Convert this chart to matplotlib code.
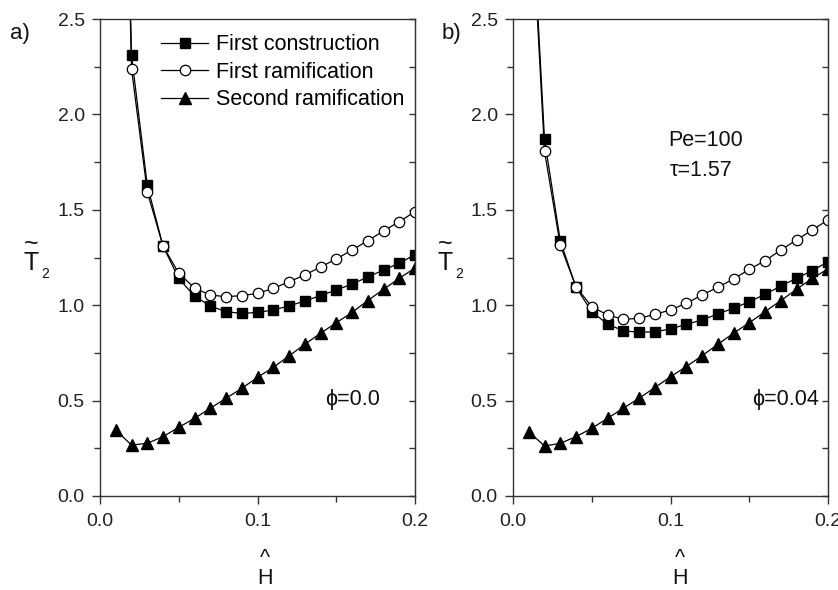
import matplotlib
matplotlib.use("Agg")
import matplotlib.pyplot as plt
from matplotlib.ticker import MultipleLocator

plt.rcParams['font.family'] = ['Liberation Sans', 'DejaVu Sans']

# H values (first points at 0.01 for squares/circles lie above the frame)
h = [0.01, 0.02, 0.03, 0.04, 0.05, 0.06, 0.07, 0.08, 0.09, 0.10,
     0.11, 0.12, 0.13, 0.14, 0.15, 0.16, 0.17, 0.18, 0.19, 0.20]

# panel a) phi = 0.0
a_first = [6.0, 2.31, 1.63, 1.31, 1.14, 1.048, 0.996, 0.966, 0.957, 0.962,
           0.975, 0.996, 1.022, 1.05, 1.08, 1.11, 1.148, 1.184, 1.22, 1.265]
a_ram1 = [5.8, 2.24, 1.595, 1.31, 1.168, 1.09, 1.053, 1.045, 1.05, 1.062,
          1.088, 1.123, 1.158, 1.20, 1.242, 1.289, 1.338, 1.389, 1.438, 1.49]
a_ram2 = [0.346, 0.267, 0.276, 0.311, 0.36, 0.407, 0.46, 0.512, 0.564, 0.622,
          0.674, 0.734, 0.795, 0.853, 0.908, 0.962, 1.024, 1.083, 1.141, 1.195]

# panel b) phi = 0.04
b_first = [3.41, 1.87, 1.338, 1.094, 0.966, 0.901, 0.866, 0.858, 0.861, 0.875,
           0.90, 0.922, 0.954, 0.984, 1.018, 1.057, 1.10, 1.141, 1.181, 1.228]
b_ram1 = [3.35, 1.808, 1.315, 1.097, 0.992, 0.949, 0.926, 0.931, 0.952, 0.975,
          1.01, 1.053, 1.094, 1.137, 1.188, 1.233, 1.289, 1.342, 1.394, 1.447]
b_ram2 = [0.337, 0.262, 0.276, 0.311, 0.355, 0.407, 0.46, 0.512, 0.568, 0.625,
          0.678, 0.735, 0.795, 0.853, 0.908, 0.966, 1.024, 1.083, 1.141, 1.19]

labels = ['First construction', 'First ramification', 'Second ramification']

W, H = 838, 590
fig = plt.figure(figsize=(W / 100, H / 100), dpi=100)
axc = '#333333'
txc = '#111111'

def setup(ax):
    ax.set_xlim(0, 0.2)
    ax.set_ylim(0, 2.5)
    ax.xaxis.set_major_locator(MultipleLocator(0.1))
    ax.xaxis.set_minor_locator(MultipleLocator(0.05))
    ax.yaxis.set_major_locator(MultipleLocator(0.5))
    ax.yaxis.set_minor_locator(MultipleLocator(0.25))
    ax.xaxis.set_major_formatter(plt.FuncFormatter(lambda v, p: '%.1f' % v))
    ax.yaxis.set_major_formatter(plt.FuncFormatter(lambda v, p: '%.1f' % v))
    for s in ax.spines.values():
        s.set_color(axc)
        s.set_linewidth(1.0)
    ax.tick_params(which='both', direction='out', colors=axc, labelcolor='#222222',
                   labelsize=14, top=False, right=False, width=1.0)
    ax.tick_params(axis='x', which='major', length=6, pad=6)
    ax.tick_params(axis='x', which='minor', length=4)
    ax.tick_params(axis='y', which='major', length=6, pad=5)
    ax.tick_params(axis='y', which='minor', length=4)
    sec = ax.secondary_yaxis('right')
    sec.yaxis.set_major_locator(MultipleLocator(0.5))
    sec.yaxis.set_minor_locator(MultipleLocator(0.25))
    sec.tick_params(which='both', direction='in', length=4, colors=axc,
                    labelright=False, width=1.0)
    sec.spines['right'].set_color(axc)

def draw(ax, y1, y2, y3):
    kw = dict(color='black', lw=0.9)
    ax.plot(h, y1, marker='s', ms=7, mfc='black', mec='black', label=labels[0], **kw)
    ax.plot(h, y2, marker='o', ms=7.5, mfc='white', mec='black', mew=0.9, label=labels[1], **kw)
    ax.plot(h, y3, marker='^', ms=9, mfc='black', mec='black', label=labels[2], **kw)

axw = 315 / W
axh = 477 / H
ax1 = fig.add_axes([100 / W, (H - 496) / H, axw, axh])
ax2 = fig.add_axes([513 / W, (H - 496) / H, axw, axh])

for ax, d in ((ax1, (a_first, a_ram1, a_ram2)), (ax2, (b_first, b_ram1, b_ram2))):
    setup(ax)
    draw(ax, *d)

ax1.legend(loc='upper left', bbox_to_anchor=(0.195, 0.968), frameon=False,
           fontsize=15.5, handlelength=2.15, handletextpad=0.37, labelspacing=0.3,
           borderpad=0, borderaxespad=0)

fig.text(353 / W, 1 - 399 / H, '\u03d5=0.0', fontsize=15.5, ha='center', va='center', color=txc)
fig.text(786 / W, 1 - 399 / H, '\u03d5=0.04', fontsize=15.5, ha='center', va='center', color=txc)
fig.text(668 / W, 1 - 140 / H, 'Pe=100', fontsize=15.5, ha='left', va='center', color=txc)
fig.text(670 / W, 1 - 171 / H, '\u03c4=1.57', fontsize=15.5, ha='left', va='center', color=txc)

# panel labels
fig.text(20 / W, 1 - 33 / H, 'a)', fontsize=16, ha='center', va='center', color=txc)
fig.text(451 / W, 1 - 33 / H, 'b)', fontsize=16, ha='center', va='center', color=txc)

# axis labels: accent and letter stacked in one text, subscript beside
for xc in (31, 445):
    fig.text(xc / W, 1 - 270 / H, '~\nT', fontsize=18, ha='center', va='baseline',
             multialignment='center', linespacing=0.75, color=txc)
    fig.text((xc + 14) / W, 1 - 274 / H, '2', fontsize=10, ha='center', va='center', color=txc)
for xc in (265, 680):
    fig.text(xc / W, 1 - 589 / H, '^\nH', fontsize=15.5, ha='center', va='bottom',
             multialignment='center', linespacing=0.95, color=txc)

fig.savefig('out.png', dpi=100)
